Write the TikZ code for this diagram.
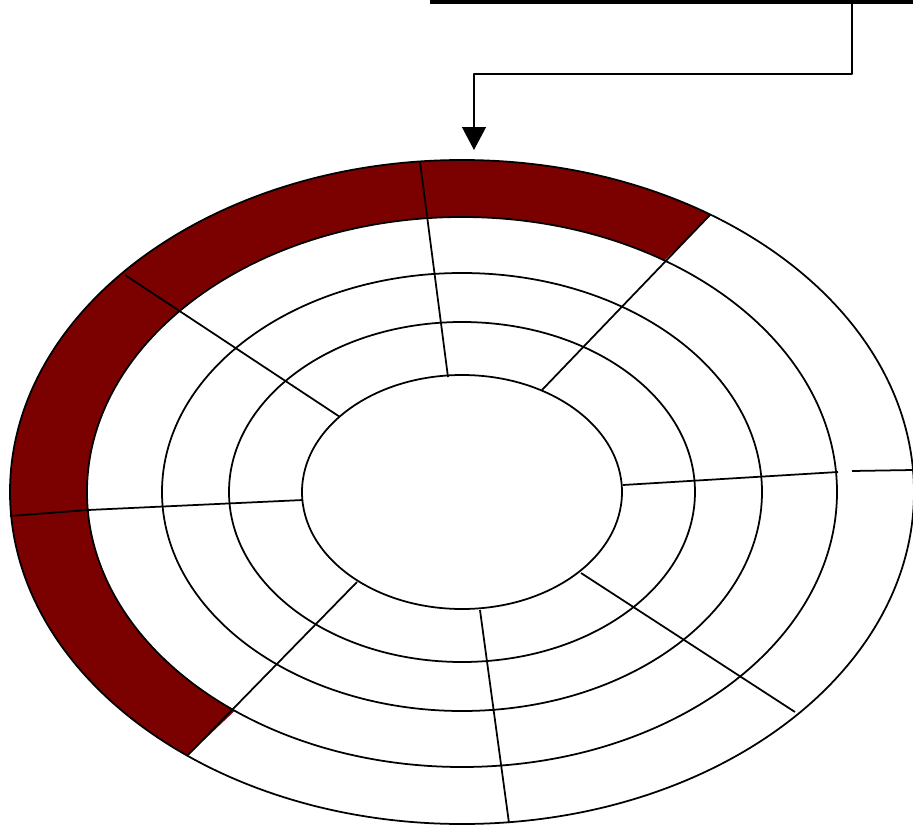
\documentclass[tikz,border=0pt]{standalone}
\usetikzlibrary{arrows.meta}
\definecolor{platter}{RGB}{123,0,0}
\tikzset{
  track/.style={draw, line width=1pt},
  sectorline/.style={line width=1pt},
  busline/.style={line width=2.3pt},
  headarrow/.style={-{Triangle[length=13pt, width=13.5pt]}, line width=1pt},
  redsector/.style={fill=platter}
}
\begin{document}
\begin{tikzpicture}[x=0.02cm, y=0.02cm, line join=round]
  \useasboundingbox (-462,-337) rectangle (451,492);
  \fill[redsector] (56.6:452 and 332) arc[start angle=56.6, end angle=232.6, x radius=452, y radius=332]
    -- (232.7:375 and 275) arc[start angle=232.7, end angle=57.3, x radius=375, y radius=275] -- cycle;
  \foreach \rx/\ry in {452/332, 375/275, 300/219, 233/170, 160/117}
    \draw[track] (0,0) ellipse[x radius=\rx, y radius=\ry];
  \draw[sectorline] (-14,115) -- (-42,330);
  \draw[sectorline] (80,102) -- (248,277);
  \draw[sectorline] (161,7) -- (376,20);
  \draw[sectorline] (390,21) -- (451,22);
  \draw[sectorline] (119,-81) -- (333,-220);
  \draw[sectorline] (18,-118) -- (47,-331);
  \draw[sectorline] (-105,-90) -- (-274,-263);
  \draw[sectorline] (-159,-8) -- (-374,-18) -- (-452,-24);
  \draw[sectorline] (-122,75) -- (-337,217);
  \coordinate (busL) at (-32,490);
  \coordinate (busR) at (451,490);
  \coordinate (tap) at (390,490);
  \coordinate (head) at (12,342);
  \draw[busline] (busL) -- (busR);
  \draw[headarrow] (tap) -- ++(0,-72) -| (head);
\end{tikzpicture}
\end{document}
